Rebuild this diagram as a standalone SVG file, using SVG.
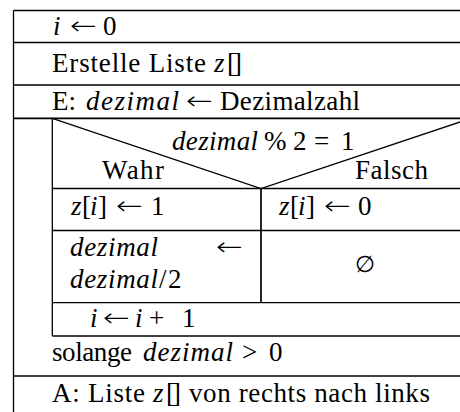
<svg xmlns="http://www.w3.org/2000/svg" width="460" height="412" viewBox="0 0 460 412">
<style>
.ln{stroke:#000;stroke-width:1.3;fill:none}
.th{stroke:#000;stroke-width:1.7;fill:none}
.m{font-style:italic}
</style>
<rect width="460" height="412" fill="#fff"/>
<g id="frame">
<line class="ln" x1="13.5" y1="10.5" x2="460" y2="10.5"/>
<line class="ln" x1="13.5" y1="10.5" x2="13.5" y2="412"/>
</g>
<g id="assign-i">
<text font-family="Liberation Serif" font-size="27" class="m" x="53" y="35">i</text>
<text font-family="DejaVu Sans" font-weight="200" font-size="25" x="70" y="34" textLength="27" lengthAdjust="spacingAndGlyphs">←</text>
<text font-family="Liberation Serif" font-size="27" x="103" y="35">0</text>
<line class="ln" x1="13.5" y1="42.5" x2="460" y2="42.5"/>
</g>
<g id="create-list">
<text font-family="Liberation Serif" font-size="27" x="52" y="72" textLength="154">Erstelle Liste</text>
<text font-family="Liberation Serif" font-size="27" class="m" x="214" y="72">z</text>
<text font-family="Liberation Serif" font-size="27" x="227" y="72" textLength="15">[]</text>
<line class="ln" x1="13.5" y1="85" x2="460" y2="85"/>
</g>
<g id="input">
<text font-family="Liberation Serif" font-size="27" x="52" y="110">E:</text>
<text font-family="Liberation Serif" font-size="27" class="m" x="86" y="110" textLength="93">dezimal</text>
<text font-family="DejaVu Sans" font-weight="200" font-size="25" x="186" y="109" textLength="27" lengthAdjust="spacingAndGlyphs">←</text>
<text font-family="Liberation Serif" font-size="27" x="220" y="110" textLength="140">Dezimalzahl</text>
<line class="th" x1="13.5" y1="118.3" x2="460" y2="118.3"/>
</g>
<g id="loop">
<line class="ln" x1="52.3" y1="118.3" x2="52.3" y2="336"/>
<line class="ln" x1="52.3" y1="336" x2="460" y2="336"/>
<text font-family="Liberation Serif" font-size="27" x="52" y="361" textLength="80">solange</text>
<text font-family="Liberation Serif" font-size="27" class="m" x="143" y="361" textLength="90">dezimal</text>
<text font-family="Liberation Serif" font-size="27" x="242" y="361">&gt;</text>
<text font-family="Liberation Serif" font-size="27" x="269" y="361">0</text>
<line class="ln" x1="13.5" y1="376" x2="460" y2="376"/>
</g>
<g id="if">
<polyline class="ln" points="52.3,118.3 261,188.5 471,118.3"/>
<text font-family="Liberation Serif" font-size="27" class="m" x="172" y="150" textLength="86">dezimal</text>
<text font-family="Liberation Serif" font-size="27" x="264" y="150">%</text>
<text font-family="Liberation Serif" font-size="27" x="293" y="150">2</text>
<text font-family="Liberation Serif" font-size="27" x="314" y="150">=</text>
<text font-family="Liberation Serif" font-size="27" x="341" y="150">1</text>
<text font-family="Liberation Serif" font-size="27" x="102" y="179" textLength="62">Wahr</text>
<text font-family="Liberation Serif" font-size="27" x="355" y="179" textLength="73">Falsch</text>
<line class="ln" x1="52.3" y1="188.5" x2="460" y2="188.5"/>
<line class="th" x1="261" y1="188.5" x2="261" y2="302.7"/>
</g>
<g id="then-1">
<text font-family="Liberation Serif" font-size="27" class="m" x="71" y="215">z</text>
<text font-family="Liberation Serif" font-size="27" x="82" y="215">[</text>
<text font-family="Liberation Serif" font-size="27" class="m" x="90" y="215">i</text>
<text font-family="Liberation Serif" font-size="27" x="98" y="215">]</text>
<text font-family="DejaVu Sans" font-weight="200" font-size="25" x="116" y="214" textLength="27" lengthAdjust="spacingAndGlyphs">←</text>
<text font-family="Liberation Serif" font-size="27" x="151" y="215">1</text>
</g>
<g id="else-1">
<text font-family="Liberation Serif" font-size="27" class="m" x="279" y="215">z</text>
<text font-family="Liberation Serif" font-size="27" x="290" y="215">[</text>
<text font-family="Liberation Serif" font-size="27" class="m" x="298" y="215">i</text>
<text font-family="Liberation Serif" font-size="27" x="306" y="215">]</text>
<text font-family="DejaVu Sans" font-weight="200" font-size="25" x="324" y="214" textLength="27" lengthAdjust="spacingAndGlyphs">←</text>
<text font-family="Liberation Serif" font-size="27" x="358" y="215">0</text>
<line class="ln" x1="52.3" y1="230.5" x2="460" y2="230.5"/>
</g>
<g id="then-2">
<text font-family="Liberation Serif" font-size="27" class="m" x="70" y="256" textLength="88">dezimal</text>
<text font-family="DejaVu Sans" font-weight="200" font-size="25" x="216" y="255" textLength="27" lengthAdjust="spacingAndGlyphs">←</text>
<text font-family="Liberation Serif" font-size="27" class="m" x="70" y="288" textLength="88">dezimal</text>
<text font-family="Liberation Serif" font-size="27" x="159" y="288">/</text>
<text font-family="Liberation Serif" font-size="27" x="168" y="288">2</text>
</g>
<g id="else-2">
<text font-family="DejaVu Serif" font-size="23" x="365" y="272" text-anchor="middle">∅</text>
<line class="ln" x1="52.3" y1="302.7" x2="460" y2="302.7"/>
</g>
<g id="increment">
<text font-family="Liberation Serif" font-size="27" class="m" x="90" y="327">i</text>
<text font-family="DejaVu Sans" font-weight="200" font-size="25" x="103" y="326" textLength="27" lengthAdjust="spacingAndGlyphs">←</text>
<text font-family="Liberation Serif" font-size="27" class="m" x="135" y="327">i</text>
<text font-family="Liberation Serif" font-size="27" x="149" y="327">+</text>
<text font-family="Liberation Serif" font-size="27" x="182" y="327">1</text>
</g>
<g id="output">
<text font-family="Liberation Serif" font-size="27" x="52" y="402" textLength="93">A: Liste</text>
<text font-family="Liberation Serif" font-size="27" class="m" x="153" y="402">z</text>
<text font-family="Liberation Serif" font-size="27" x="166" y="402" textLength="15">[]</text>
<text font-family="Liberation Serif" font-size="27" x="189" y="402" textLength="241">von rechts nach links</text>
</g>
</svg>
